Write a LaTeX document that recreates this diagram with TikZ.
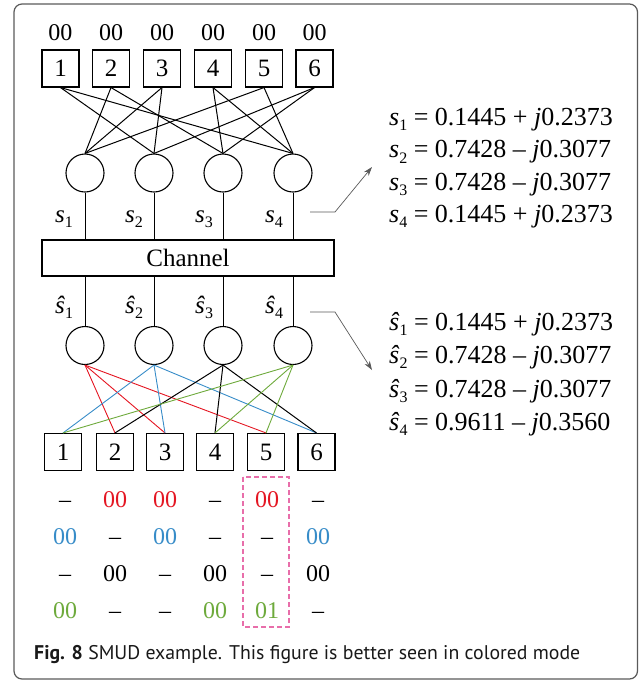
\documentclass[tikz,border=0pt]{standalone}
\usepackage{fontspec}
\setmainfont{Liberation Serif}
\newfontfamily\capfont{PT Sans}
\usetikzlibrary{arrows.meta}
\definecolor{cred}{RGB}{228,22,34}
\definecolor{cblue}{RGB}{55,140,200}
\definecolor{cgreen}{RGB}{110,170,60}
\definecolor{cframe}{RGB}{90,90,90}
\newcommand\lowsub[1]{\raisebox{-0.22em}{\fontsize{16}{16}\selectfont #1}}
\begin{document}
\begin{tikzpicture}[x=1pt,y=-1pt,
  font=\fontsize{25}{25}\selectfont,
  ubox/.style={draw, line width=1.1pt, minimum width=37pt, minimum height=37pt, inner sep=0pt},
  vnode/.style={draw, circle, line width=1.1pt, minimum size=38pt, inner sep=0pt},
  blk/.style={line width=1pt},
  redline/.style={line width=0.9pt, draw=cred},
  blueline/.style={line width=0.9pt, draw=cblue},
  greenline/.style={line width=0.9pt, draw=cgreen},
  arr/.style={draw=black!65, line width=0.7pt, -{Stealth[length=9pt,width=6pt]}},
  lbl/.style={anchor=base, inner sep=0pt, font=\fontsize{24}{24}\selectfont},
  eq/.style={anchor=base west, inner sep=0pt, font=\fontsize{26}{26}\selectfont},
  pinkbox/.style={draw={rgb,255:red,232;green,110;blue,170}, line width=1.1pt, dash pattern=on 5pt off 3pt},
]
\useasboundingbox (0,0) rectangle (641,681);
\draw[cframe, line width=1.2pt, rounded corners=8pt] (14,4) rectangle (637.5,679);

% top labels
\foreach \x/\n in {60.5/1,111/2,162/3,213/4,264/5,314.5/6}{
  \node[lbl] (top\n) at (\x,40) {00};
}
% top boxes
\foreach \x/\n in {60.5/1,111/2,162/3,213/4,264/5,314.5/6}{
  \node[ubox] (t\n) at (\x,68.5) {\n};
}
% upper circles
\foreach \x/\n in {85/1,154/2,223/3,293/4}{
  \node[vnode] (c\n) at (\x,173) {};
}
% top edges
\foreach \a/\b in {1/2,1/4,2/1,2/3,3/1,3/2,4/3,4/4,5/1,5/4,6/2,6/3}{
  \draw[blk] (t\a.south) -- (c\b.north);
}
% channel
\node[draw, line width=1.1pt, minimum width=292pt, minimum height=36pt, inner sep=0pt] (ch) at (188,258) {Channel};
% lower circles
\foreach \x/\n in {85/1,154/2,223/3,293/4}{
  \node[vnode] (d\n) at (\x,345.5) {};
}
\foreach \n in {1,2,3,4}{
  \draw[blk] (c\n.south) -- (c\n.south |- ch.north);
  \draw[blk] (d\n.north |- ch.south) -- (d\n.north);
}
% s labels
\foreach \x/\n in {55/1,125/2,195/3,265/4}{
  \node[anchor=base west, inner sep=0pt] (sl\n) at (\x,222) {\textit{s}\lowsub{\n}};
  \node[anchor=base west, inner sep=0pt] (hl\n) at (\x,313) {\textit{ŝ}\lowsub{\n}};
}
% bottom boxes
\foreach \x/\n in {63/1,115/2,165/3,215/4,266/5,316.5/6}{
  \node[ubox] (b\n) at (\x,452) {\n};
}
% coloured edges
\foreach \b in {2,3,5}{\draw[redline] (d1.south) -- (b\b.north);}
\foreach \b in {1,3,6}{\draw[blueline] (d2.south) -- (b\b.north);}
\foreach \b in {2,4,6}{\draw[blk] (d3.south) -- (b\b.north);}
\foreach \b in {1,4,5}{\draw[greenline] (d4.south) -- (b\b.north);}

% table
\foreach \t [count=\c] in {–,{\color{cred}00},{\color{cred}00},–,{\color{cred}00},–}{
  \pgfmathsetmacro\xx{{65,115,165,215,267,318}[\c-1]}
  \node[lbl] (ra\c) at (\xx,507) {\t};
}
\foreach \t [count=\c] in {{\color{cblue}00},–,{\color{cblue}00},–,–,{\color{cblue}00}}{
  \pgfmathsetmacro\xx{{65,115,165,215,267,318}[\c-1]}
  \node[lbl] (rb\c) at (\xx,544) {\t};
}
\foreach \t [count=\c] in {–,00,–,00,–,00}{
  \pgfmathsetmacro\xx{{65,115,165,215,267,318}[\c-1]}
  \node[lbl] (rc\c) at (\xx,581) {\t};
}
\foreach \t [count=\c] in {{\color{cgreen}00},–,–,{\color{cgreen}00},{\color{cgreen}01},–}{
  \pgfmathsetmacro\xx{{65,115,165,215,267,318}[\c-1]}
  \node[lbl] (rd\c) at (\xx,618) {\t};
}
\draw[pinkbox] (243,477) rectangle (289,627);

% arrows
\coordinate (a1s) at (310,212);
\coordinate (a1m) at (335,212);
\coordinate (a1e) at (372,167);
\draw[arr] (a1s) -- (a1m) -- (a1e);
\coordinate (a2s) at (310,312);
\coordinate (a2m) at (335,312);
\coordinate (a2e) at (372,370);
\draw[arr] (a2s) -- (a2m) -- (a2e);

% equations
\node[eq] (e1) at (389,125) {\textit{s}\lowsub{1} = 0.1445 + \textit{j}0.2373};
\node[eq] (e2) at (389,157.5) {\textit{s}\lowsub{2} = 0.7428 – \textit{j}0.3077};
\node[eq] (e3) at (389,190) {\textit{s}\lowsub{3} = 0.7428 – \textit{j}0.3077};
\node[eq] (e4) at (389,222) {\textit{s}\lowsub{4} = 0.1445 + \textit{j}0.2373};
\node[eq] (f1) at (389,330) {\textit{ŝ}\lowsub{1} = 0.1445 + \textit{j}0.2373};
\node[eq] (f2) at (389,363) {\textit{ŝ}\lowsub{2} = 0.7428 – \textit{j}0.3077};
\node[eq] (f3) at (389,397) {\textit{ŝ}\lowsub{3} = 0.7428 – \textit{j}0.3077};
\node[eq] (f4) at (389,430) {\textit{ŝ}\lowsub{4} = 0.9611 – \textit{j}0.3560};

% caption
\node[anchor=base west, inner sep=0pt, text=black!90] (cap) at (34,659)
  {\capfont\fontsize{19.8}{19.8}\selectfont\textbf{Fig. 8} SMUD example. This figure is better seen in colored mode};
\end{tikzpicture}
\end{document}
